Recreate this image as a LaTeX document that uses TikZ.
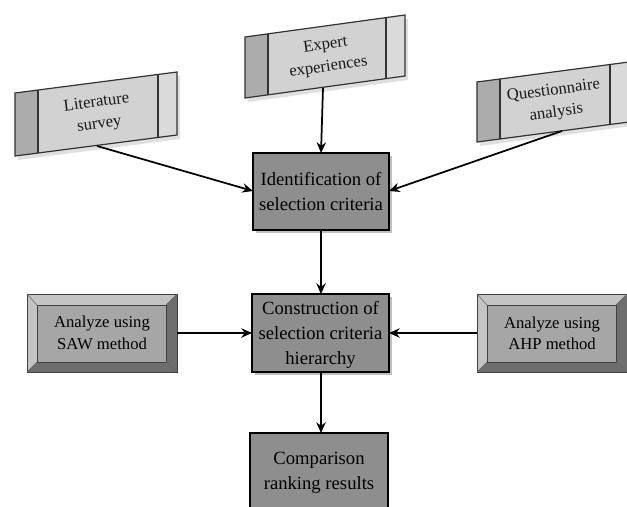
\documentclass[tikz,border=0pt]{standalone}
\usepackage{fontspec}
\setmainfont{Liberation Serif}
\usetikzlibrary{arrows.meta}
\definecolor{scrollmid}{HTML}{D2D2D2}
\definecolor{scrollleft}{HTML}{ACACAC}
\definecolor{scrollright}{HTML}{DADADA}
\definecolor{centerfill}{HTML}{8E8E8E}
\definecolor{bevface}{HTML}{A6A6A6}
\definecolor{bevlight}{HTML}{C4C4C4}
\definecolor{bevdark}{HTML}{6E6E6E}
\tikzset{
  scrolltext/.style={font=\fontsize{12.5}{16.5}\selectfont, align=center, text=black!90, inner sep=1pt},
  centertext/.style={font=\fontsize{14}{19}\selectfont, align=center, text=black},
  bevtext/.style={font=\fontsize{12.5}{16}\selectfont, align=center, text=black},
  centerbox/.style={draw=black, line width=1.6pt, fill=centerfill},
  arr/.style={-{Stealth[length=8pt,width=7pt]}, line width=1.3pt, black},
}
% #1 name, #2 left x, #3 top-left y, #4 width, #5 rise, #6 height, #7 text
\newcommand\scrollshape[7]{%
  \pgfmathsetmacro\xr{#2+#4}
  \pgfmathsetmacro\xa{#2+23}
  \pgfmathsetmacro\xb{#2+#4-19}
  \pgfmathsetmacro\ya{#3-#5*23/#4}
  \pgfmathsetmacro\yb{#3-#5*(#4-19)/#4}
  \pgfmathsetmacro\ytr{#3-#5}
  \pgfmathsetmacro\ybl{#3+#6}
  \pgfmathsetmacro\ybr{#3+#6-#5}
  \pgfmathsetmacro\ang{atan(#5/#4)}
  \fill[black!12] (#2+3,#3+4) -- (\xr+3,\ytr+4) -- (\xr+3,\ybr+4) -- (#2+3,\ybl+4) -- cycle;
  \fill[scrollmid] (#2,#3) -- (\xr,\ytr) -- (\xr,\ybr) -- (#2,\ybl) -- cycle;
  \fill[scrollleft] (#2,#3) -- (\xa,\ya) -- (\xa,\ya+#6) -- (#2,\ybl) -- cycle;
  \fill[scrollright] (\xb,\yb) -- (\xr,\ytr) -- (\xr,\ybr) -- (\xb,\yb+#6) -- cycle;
  \draw[black!80, line width=0.9pt] (#2,#3) -- (\xr,\ytr) -- (\xr,\ybr) -- (#2,\ybl) -- cycle;
  \draw[black!80, line width=0.9pt] (\xa,\ya) -- (\xa,\ya+#6) (\xb,\yb) -- (\xb,\yb+#6);
  \node[scrolltext, rotate=\ang] (#1) at ({#2+#4/2+2},{#3-#5/2+#6/2}) {#7};
}
% #1 name, #2 x1, #3 y1, #4 x2, #5 y2, #6 text
\newcommand\bevelshape[6]{%
  \fill[bevlight] (#2,#3) rectangle (#4,#5);
  \fill[bevdark] (#4,#3) -- (#4,#5) -- (#2,#5) -- (#2+10,#5-10) -- (#4-11,#5-10) -- (#4-11,#3+11) -- cycle;
  \fill[bevface] (#2+10,#3+11) rectangle (#4-11,#5-10);
  \draw[black!75, line width=0.6pt] (#2,#3) rectangle (#4,#5);
  \draw[black!75, line width=0.6pt] (#2+10,#3+11) rectangle (#4-11,#5-10);
  \draw[black!60, line width=0.4pt] (#2,#3) -- (#2+10,#3+11) (#4,#3) -- (#4-11,#3+11) (#2,#5) -- (#2+10,#5-10) (#4,#5) -- (#4-11,#5-10);
  \node[bevtext] (#1) at ({(#2+#4)/2},{(#3+#5)/2}) {#6};
}
\begin{document}
\begin{tikzpicture}[x=0.75pt,y=-0.75pt]
\clip (0,0) rectangle (627,506);
\fill[white] (0,0) rectangle (627,506);

% top input boxes
\scrollshape{lit}{15}{93}{162}{21}{63}{Literature\\survey}
\scrollshape{exp}{245}{37}{160}{22}{61}{Expert\\experiences}
\scrollshape{que}{477}{82}{152}{20}{60}{Questionnaire\\analysis}

\coordinate (litout) at (97,146);
\coordinate (expout) at (323,88);
\coordinate (queout) at (562,131);

% center boxes
\fill[black!25] (256,156) rectangle (392,233);
\draw[centerbox] (253,153) rectangle (389,230);
\node[centertext] (ident) at (321,191.5) {Identification of\\selection criteria};
\coordinate (identN) at (321,153);
\coordinate (identS) at (321,230);
\coordinate (identW) at (253,191);
\coordinate (identE) at (389,191);

\fill[black!25] (255,297) rectangle (392,375);
\draw[centerbox] (252,294) rectangle (389,372);
\node[centertext] (cons) at (320.5,335) {Construction of\\selection criteria\\hierarchy};
\coordinate (consN) at (321,294);
\coordinate (consS) at (321,372);
\coordinate (consW) at (252,333);
\coordinate (consE) at (389,333);

\draw[centerbox] (250,433) rectangle (388,520);
\node[centertext] (comp) at (319,473) {Comparison\\ranking results};
\coordinate (compN) at (321,433);

% bevel boxes
\bevelshape{saw}{27}{294}{177}{372}{Analyze using\\SAW method}
\bevelshape{ahp}{477}{294}{627}{372}{Analyze using\\AHP method}
\coordinate (sawE) at (177,333);
\coordinate (ahpW) at (477,333);

% connectors
\draw[arr] (litout) -- (identW);
\draw[arr] (expout) -- (identN);
\draw[arr] (queout) -- (identE);
\draw[arr] (identS) -- (consN);
\draw[arr] (sawE) -- (consW);
\draw[arr] (ahpW) -- (consE);
\draw[arr] (consS) -- (compN);
\end{tikzpicture}
\end{document}
